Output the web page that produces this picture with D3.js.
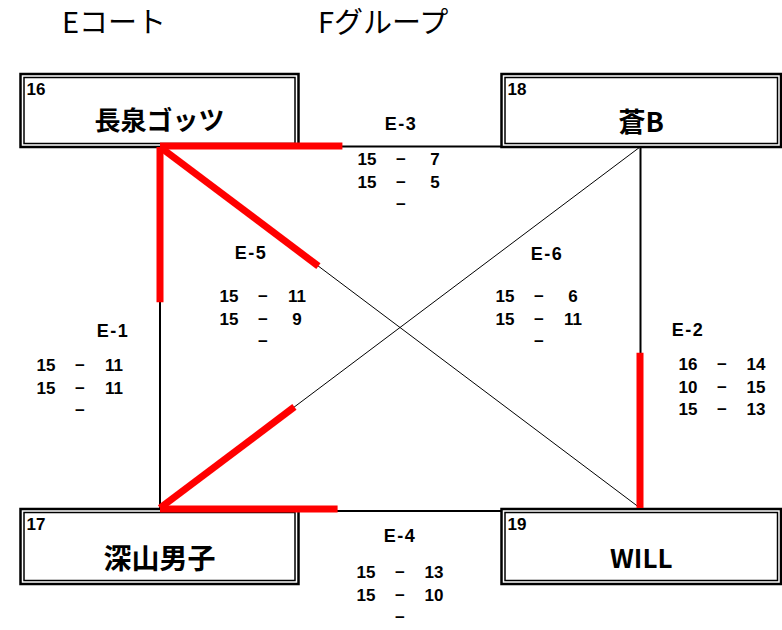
<!DOCTYPE html>
<html>
<head>
<meta charset="utf-8">
<script src="https://cdn.jsdelivr.net/npm/d3@7"></script>
<style>
  html, body { margin: 0; padding: 0; background: #fff; }
  svg { display: block; }
</style>
</head>
<body>
<svg id="chart" width="782" height="630"></svg>
<script>
// ---- data ----
const courtTitle = "Eコート";
const groupTitle = "Fグループ";
const teams = ["長泉ゴッツ", "蒼B", "深山男子", "WILL"];
const teamNumbers = ["16", "18", "17", "19"];
const matchIds = ["E-1", "E-2", "E-3", "E-4", "E-5", "E-6"];
// [first listed team, second listed team]
const matchPairs = [[0, 2], [3, 1], [0, 1], [2, 3], [0, 3], [2, 1]];
const game1 = [[15, 11], [16, 14], [15, 7], [15, 13], [15, 11], [15, 6]];
const game2 = [[15, 11], [10, 15], [15, 5], [15, 10], [15, 9], [15, 11]];
const game3 = [null, [15, 13], null, null, null, null];
const winners = [0, 3, 0, 2, 0, 2];

// ---- layout (positions / styles) ----
const teamCol = [0, 1, 0, 1];
const teamRow = [0, 0, 1, 1];
const cornerX = d3.scalePoint().domain([0, 1]).range([160, 640]);
const cornerY = d3.scalePoint().domain([0, 1]).range([147, 508]);
const boxX = d3.scaleOrdinal().domain([0, 1]).range([[20.5, 298.5], [501.5, 781]]);
const boxY = d3.scaleOrdinal().domain([0, 1]).range([[74, 147], [509, 584]]);
const nameBaseline = [130, 132, 569, 568];
const nameSize = [26, 27, 28, 26];
// label center, score dash center x, first row center y
const matchLayout = {
  "E-1": { lx: 113, ly: 330, dx: 80, ry: 365 },
  "E-2": { lx: 688, ly: 329, dx: 722, ry: 364 },
  "E-3": { lx: 401, ly: 123, dx: 401, ry: 159 },
  "E-4": { lx: 400, ly: 535, dx: 400, ry: 572 },
  "E-5": { lx: 251, ly: 252, dx: 263, ry: 296 },
  "E-6": { lx: 547, ly: 253, dx: 539, ry: 296 }
};
const highlightFrac = { "E-1": 0.43, "E-2": 0.43, "E-3": 0.38, "E-4": 0.37, "E-5": 0.33, "E-6": 0.28 };

const svg = d3.select("#chart");
const CJK = "'Noto Sans CJK JP', 'Noto Sans', sans-serif";
const NUM = "'Liberation Sans', Arial, sans-serif";

// titles
svg.append("text").attr("x", 62).attr("y", 33).text(courtTitle)
  .attr("font-family", CJK).attr("font-size", 29).attr("fill", "#000");
svg.append("text").attr("x", 318).attr("y", 33).text(groupTitle)
  .attr("font-family", CJK).attr("font-size", 29).attr("fill", "#000");

// connection lines
const corner = i => [cornerX(teamCol[i]), cornerY(teamRow[i])];
const lines = svg.append("g");
matchPairs.forEach(([a, b]) => {
  const [x1, y1] = corner(a), [x2, y2] = corner(b);
  let sw = 1, ox = 0, oy = 0;
  if (y1 === y2) { sw = 2; oy = teamRow[a] === 0 ? -0.5 : 3; }
  else if (x1 === x2) { sw = 2; ox = teamCol[a] === 1 ? 0.5 : 0; }
  lines.append("line")
    .attr("x1", x1 + ox).attr("y1", y1 + oy).attr("x2", x2 + ox).attr("y2", y2 + oy)
    .attr("stroke", "#000").attr("stroke-width", sw);
});

// team boxes
const boxes = svg.append("g");
teams.forEach((name, i) => {
  const [x0, x1] = boxX(teamCol[i]);
  const [y0, y1] = boxY(teamRow[i]);
  boxes.append("rect").attr("x", x0).attr("y", y0).attr("width", x1 - x0).attr("height", y1 - y0)
    .attr("fill", "#fff").attr("stroke", "#000").attr("stroke-width", 2.5);
  boxes.append("rect").attr("x", x0 + 3.5).attr("y", y0 + 3.5).attr("width", x1 - x0 - 7).attr("height", y1 - y0 - 7)
    .attr("fill", "none").attr("stroke", "#000").attr("stroke-width", 1.5);
  boxes.append("text").attr("x", x0 + 6).attr("y", y0 + 21).text(teamNumbers[i])
    .attr("font-family", NUM).attr("font-weight", "bold").attr("font-size", 17);
  boxes.append("text").attr("x", (x0 + x1) / 2).attr("y", nameBaseline[i]).text(name)
    .attr("text-anchor", "middle").attr("font-family", CJK).attr("font-weight", "bold")
    .attr("font-size", nameSize[i]);
});

// winner highlights
const reds = svg.append("g");
matchIds.forEach((id, k) => {
  const w = winners[k];
  const [a, b] = matchPairs[k];
  const l = w === a ? b : a;
  const [x1, y1] = corner(w), [x2, y2] = corner(l);
  const f = highlightFrac[id];
  let sy = 0;
  if (y1 === y2) sy = teamRow[w] === 0 ? -1 : 1;
  reds.append("line")
    .attr("x1", x1).attr("y1", y1 + (y1 === y2 ? sy : 0))
    .attr("x2", x1 + (x2 - x1) * f).attr("y2", y1 + (y2 - y1) * f + (y1 === y2 ? sy : 0))
    .attr("stroke", "#ff0000").attr("stroke-width", 7).attr("stroke-linecap", "butt");
});

// match labels & scores
const texts = svg.append("g").attr("font-family", NUM).attr("font-weight", "bold").attr("fill", "#000");
matchIds.forEach((id, k) => {
  const L = matchLayout[id];
  texts.append("text").attr("x", L.lx).attr("y", L.ly + 6.5).text(id)
    .attr("text-anchor", "middle").attr("font-size", 18).attr("letter-spacing", 1.5);
  const games = [game1[k], game2[k], game3[k]];
  games.forEach((g, r) => {
    const cy = L.ry + r * 22.5 + 6;
    texts.append("text").attr("x", L.dx).attr("y", cy).text("−")
      .attr("text-anchor", "middle").attr("font-size", 17);
    if (g) {
      texts.append("text").attr("x", L.dx - 34).attr("y", cy).text(g[0])
        .attr("text-anchor", "middle").attr("font-size", 17);
      texts.append("text").attr("x", L.dx + 34).attr("y", cy).text(g[1])
        .attr("text-anchor", "middle").attr("font-size", 17);
    }
  });
});
</script>
</body>
</html>
